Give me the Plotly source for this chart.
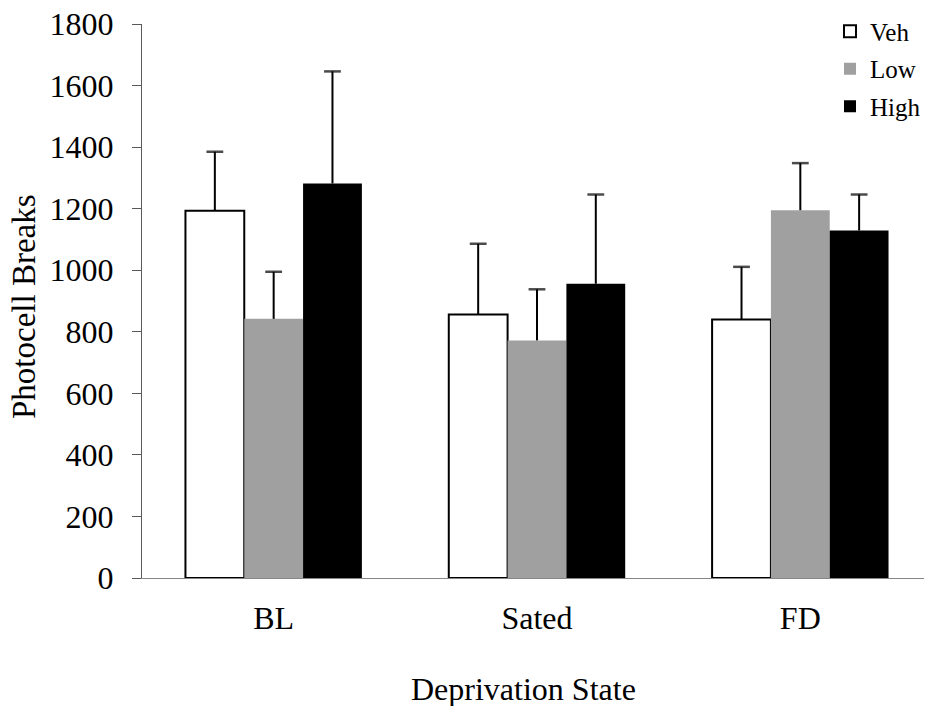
import plotly.graph_objects as go

# Photocell breaks by deprivation state and dose
states = ["BL", "Sated", "FD"]
groups = ["Veh", "Low", "High"]

veh_mean = [1193, 856, 840]
low_mean = [842, 772, 1195]
high_mean = [1282, 956, 1129]

veh_sem = [192, 230, 171]
low_sem = [153, 166, 153]
high_sem = [364, 290, 117]

y_ticks = [0, 200, 400, 600, 800, 1000, 1200, 1400, 1600, 1800]

FONT = "Liberation Serif"

means = [veh_mean, low_mean, high_mean]
sems = [veh_sem, low_sem, high_sem]
fills = ["#ffffff", "#a0a0a0", "#000000"]
outline_w = [2, 0, 0]

fig = go.Figure()
for name, m, s, c, lw in zip(groups, means, sems, fills, outline_w):
    fig.add_trace(go.Bar(
        name=name,
        x=states,
        y=m,
        legendgroup=name,
        offsetgroup=name,
        marker=dict(color=c, line=dict(color="#000000", width=lw)),
    ))

# upper-only error bars: a stem from the bar top to mean + SEM, capped at the top
for name, m, s in zip(groups, means, sems):
    xs, ys, sizes = [], [], []
    for st, mv, sv in zip(states, m, s):
        xs += [st, st, None]
        ys += [mv, mv + sv, None]
        sizes += [0, 12, 0]
    fig.add_trace(go.Scatter(
        x=xs, y=ys, mode="lines+markers",
        offsetgroup=name, showlegend=False, hoverinfo="skip",
        line=dict(color="#000000", width=2),
        marker=dict(symbol="line-ew", size=sizes,
                    line=dict(color="#000000", width=2.5)),
        connectgaps=False,
    ))

W, H = 926, 706
L, R, T, B = 142, 0, 24, 128
plot_w = W - L - R
cat_px = 264

fig.update_layout(
    width=W, height=H,
    margin=dict(l=L, r=R, t=T, b=B),
    paper_bgcolor="white", plot_bgcolor="white",
    barmode="group", bargap=0.33, bargroupgap=0,
    scattermode="group", scattergap=0.33,
    font=dict(family=FONT, size=32, color="#000000"),
    showlegend=True,
    legend=dict(
        x=(832 - L) / plot_w, y=1.028, xanchor="left", yanchor="top",
        font=dict(family=FONT, size=25, color="#000000"),
        bgcolor="rgba(0,0,0,0)", traceorder="grouped",
        tracegroupgap=2, itemwidth=30,
    ),
    xaxis=dict(
        range=[-0.5, -0.5 + plot_w / cat_px],
        showline=True, linecolor="#868686", linewidth=1,
        ticks="", showgrid=False, zeroline=False,
        tickfont=dict(family=FONT, size=32),
        ticklabelstandoff=12,
    ),
    yaxis=dict(
        range=[0, 1800], tickvals=y_ticks,
        showline=True, linecolor="#595959", linewidth=1,
        ticks="outside", ticklen=9, tickcolor="#595959", tickwidth=1,
        showgrid=False, zeroline=False,
        tickfont=dict(family=FONT, size=32),
        ticklabelstandoff=12,
    ),
    annotations=[
        dict(text="Deprivation State", xref="paper", yref="paper",
             x=(524 - L) / plot_w, y=-(688 - 577.3) / 554,
             xanchor="center", yanchor="middle", showarrow=False,
             font=dict(family=FONT, size=32)),
        dict(text="Photocell Breaks", xref="paper", yref="paper",
             x=(23 - L) / plot_w, y=(577.3 - 306) / 554,
             xanchor="center", yanchor="middle", showarrow=False,
             textangle=-90, font=dict(family=FONT, size=33)),
    ],
)

fig.write_html("out.html")
